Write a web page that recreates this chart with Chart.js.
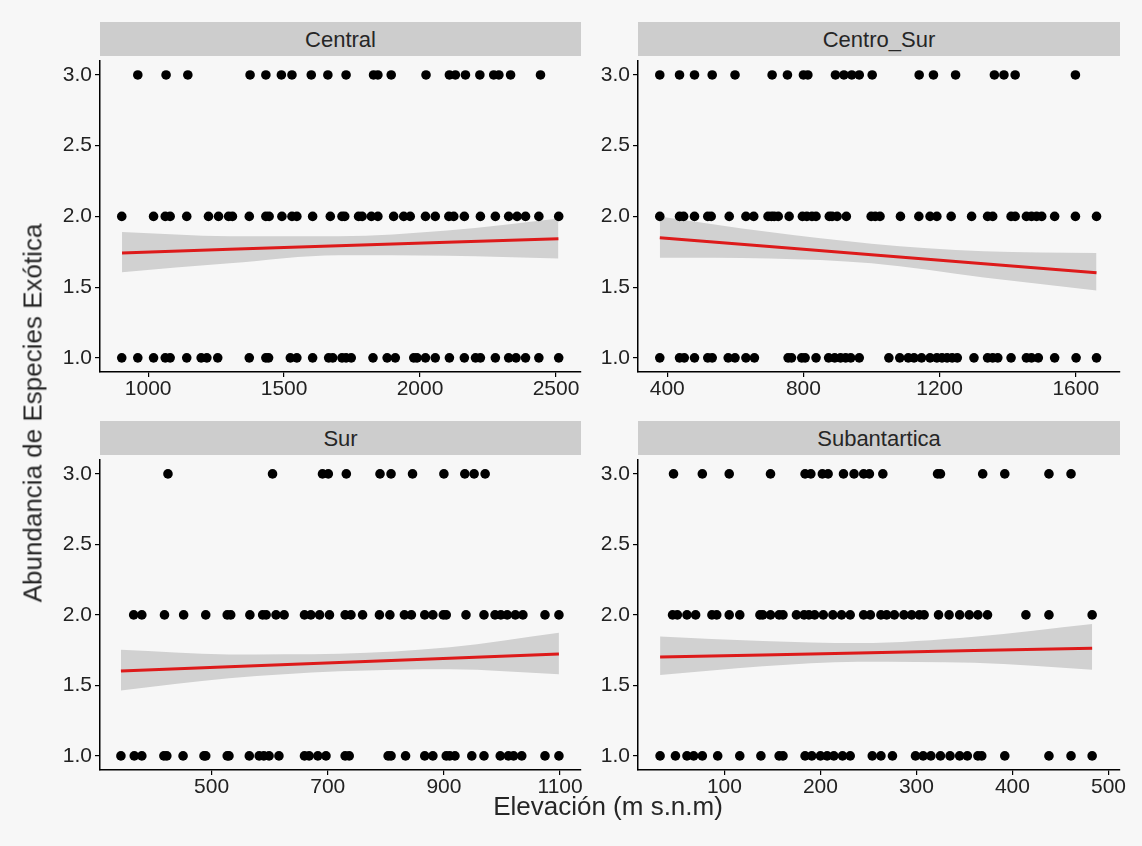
<!DOCTYPE html>
<html>
<head>
<meta charset="utf-8">
<script src="https://cdn.jsdelivr.net/npm/chart.js@4.4.0/dist/chart.umd.min.js"></script>
<style>
  body { margin: 0; background: #f7f7f7; }
  #wrap { position: relative; width: 1142px; height: 846px; overflow: hidden;
          font-family: "Liberation Sans", Arial, sans-serif; color: #262626; }
  canvas { position: absolute; }
  .strip { position: absolute; height: 34px; background: #cdcdcd; font-size: 22px;
           text-align: center; line-height: 35px; }
  .ytitle { position: absolute; left: 33px; top: 413px; font-size: 26px; white-space: nowrap;
            transform: translate(-50%, -50%) rotate(-90deg); }
  .xtitle { position: absolute; left: 608px; top: 806px; font-size: 26px; white-space: nowrap;
            transform: translate(-50%, -50%); }
</style>
</head>
<body>
<div id="wrap">
  <div class="strip" style="left:100px; top:22px; width:481px;">Central</div>
  <div class="strip" style="left:638px; top:22px; width:482px;">Centro_Sur</div>
  <div class="strip" style="left:100px; top:421px; width:481px;">Sur</div>
  <div class="strip" style="left:638px; top:421px; width:482px;">Subantartica</div>
  <canvas id="central" width="550" height="351" style="left:40px; top:56px;"></canvas>
  <canvas id="centroSur" width="564" height="351" style="left:578px; top:56px;"></canvas>
  <canvas id="sur" width="550" height="350" style="left:40px; top:455px;"></canvas>
  <canvas id="subantartica" width="564" height="350" style="left:578px; top:455px;"></canvas>
  <div class="ytitle">Abundancia de Especies Exótica</div>
  <div class="xtitle">Elevación (m s.n.m)</div>
</div>
<script>
// elevation of each plot, grouped by abundance value (1, 2, 3)
const centralAb1 = [903, 962, 1020, 1063, 1081, 1142, 1195, 1216, 1256, 1372, 1433, 1443, 1523, 1547, 1605, 1664, 1679, 1713, 1728, 1747, 1827, 1879, 1909, 1977, 1989, 2020, 2056, 2108, 2163, 2204, 2222, 2277, 2326, 2353, 2388, 2437, 2510];
const centralAb2 = [903, 1020, 1063, 1081, 1142, 1222, 1259, 1296, 1310, 1372, 1433, 1445, 1492, 1529, 1547, 1605, 1670, 1713, 1723, 1774, 1787, 1821, 1845, 1903, 1940, 1964, 2020, 2056, 2106, 2124, 2163, 2222, 2277, 2326, 2357, 2388, 2437, 2510];
const centralAb3 = [962, 1066, 1146, 1375, 1433, 1490, 1529, 1600, 1661, 1728, 1829, 1845, 1894, 2022, 2108, 2130, 2167, 2220, 2271, 2290, 2333, 2443];

const centroSurAb1 = [378, 436, 450, 480, 519, 532, 579, 599, 631, 656, 755, 765, 795, 805, 837, 874, 892, 909, 924, 939, 964, 1051, 1083, 1108, 1125, 1147, 1172, 1192, 1207, 1222, 1237, 1252, 1301, 1341, 1356, 1371, 1410, 1455, 1470, 1490, 1538, 1601, 1661];
const centroSurAb2 = [378, 436, 448, 480, 519, 529, 582, 631, 654, 696, 706, 714, 726, 758, 797, 810, 825, 837, 876, 884, 899, 926, 999, 1011, 1025, 1085, 1139, 1172, 1192, 1234, 1294, 1341, 1356, 1410, 1422, 1455, 1470, 1485, 1500, 1538, 1599, 1661];
const centroSurAb3 = [378, 436, 480, 532, 599, 708, 753, 800, 813, 894, 919, 942, 964, 1002, 1140, 1182, 1247, 1361, 1389, 1422, 1599];

const surAb1 = [344, 367, 380, 418, 423, 451, 487, 490, 527, 530, 565, 582, 590, 599, 616, 660, 668, 683, 697, 730, 737, 804, 809, 834, 867, 881, 904, 910, 919, 948, 969, 997, 1011, 1020, 1034, 1074, 1098];
const surAb2 = [366, 380, 419, 452, 490, 527, 533, 566, 588, 594, 611, 625, 660, 671, 686, 703, 730, 740, 760, 789, 807, 832, 844, 867, 881, 899, 904, 938, 969, 988, 998, 1009, 1023, 1036, 1074, 1098];
const surAb3 = [425, 605, 691, 701, 732, 790, 809, 846, 900, 936, 952, 971];

const subAb1 = [33, 49, 61, 68, 77, 93, 116, 138, 157, 161, 184, 191, 200, 207, 214, 223, 231, 254, 263, 275, 299, 307, 315, 325, 335, 345, 353, 364, 368, 392, 438, 461, 483];
const subAb2 = [46, 51, 61, 70, 87, 92, 105, 116, 137, 140, 148, 157, 161, 175, 183, 188, 194, 203, 213, 222, 231, 245, 252, 263, 269, 277, 287, 295, 303, 308, 323, 334, 345, 355, 364, 374, 414, 438, 483];
const subAb3 = [47, 77, 105, 148, 184, 190, 202, 208, 224, 235, 245, 251, 265, 322, 325, 369, 392, 438, 461];

// linear fit and its confidence band, read at a few elevations
const centralFitX = [904, 1300, 1700, 2100, 2509];
const centralFit = [1.742, 1.767, 1.792, 1.817, 1.842];
const centralUpper = [1.889, 1.86, 1.86, 1.90, 1.986];
const centralLower = [1.606, 1.668, 1.726, 1.722, 1.703];

const centroSurFitX = [378, 700, 1000, 1330, 1661];
const centroSurFit = [1.849, 1.787, 1.729, 1.665, 1.601];
const centroSurUpper = [2.0, 1.889, 1.807, 1.754, 1.742];
const centroSurLower = [1.708, 1.703, 1.668, 1.568, 1.476];

const surFitX = [344, 530, 720, 910, 1098];
const surFit = [1.602, 1.632, 1.662, 1.692, 1.722];
const surUpper = [1.752, 1.72, 1.725, 1.77, 1.873];
const surLower = [1.463, 1.55, 1.60, 1.615, 1.579];

const subFitX = [33, 140, 240, 360, 483];
const subFit = [1.701, 1.716, 1.730, 1.747, 1.764];
const subUpper = [1.847, 1.815, 1.80, 1.845, 1.935];
const subLower = [1.574, 1.636, 1.668, 1.66, 1.611];

const yTicks = [1.0, 1.5, 2.0, 2.5, 3.0];
const centralTicks = [1000, 1500, 2000, 2500];
const centroSurTicks = [400, 800, 1200, 1600];
const surTicks = [500, 700, 900, 1100];
const subTicks = [100, 200, 300, 400, 500];

const ink = '#222222';
const tickFont = { family: '"Liberation Sans", Arial, sans-serif', size: 21 };

function toPoints(xs, ys) {
  return xs.map((x, i) => ({ x: x, y: ys[i] }));
}

function makePanel(id, rows, fitX, fit, upper, lower, ticks, xMin, xMax, padRight) {
  const points = [];
  rows.forEach((xs, k) => xs.forEach(x => points.push({ x: x, y: k + 1 })));

  new Chart(document.getElementById(id), {
    type: 'line',
    data: {
      datasets: [
        {
          data: points,
          showLine: false,
          pointRadius: 4.8,
          pointBackgroundColor: '#000',
          pointBorderWidth: 0,
          order: 0
        },
        {
          data: toPoints(fitX, fit),
          borderColor: '#dd1a1a',
          borderWidth: 3,
          pointRadius: 0,
          tension: 0,
          order: 1
        },
        {
          data: toPoints(fitX, upper),
          borderWidth: 0,
          pointRadius: 0,
          cubicInterpolationMode: 'monotone',
          backgroundColor: '#d1d1d1',
          fill: '+1',
          order: 2
        },
        {
          data: toPoints(fitX, lower),
          borderWidth: 0,
          pointRadius: 0,
          cubicInterpolationMode: 'monotone',
          order: 3
        }
      ]
    },
    options: {
      responsive: false,
      animation: false,
      devicePixelRatio: 1,
      layout: { padding: { top: 0, right: padRight, bottom: 0, left: 0 } },
      plugins: { legend: { display: false }, tooltip: { enabled: false } },
      scales: {
        x: {
          type: 'linear',
          min: xMin,
          max: xMax,
          afterBuildTicks: scale => { scale.ticks = ticks.map(v => ({ value: v })); },
          afterFit: scale => { scale.height = 35; scale.paddingLeft = 0; scale.paddingRight = 0; },
          ticks: { color: ink, font: tickFont, padding: 0, maxRotation: 0,
                   callback: v => String(v) },
          grid: { drawOnChartArea: false, tickLength: 5, color: '#000', lineWidth: 1.2 },
          border: { display: true, color: '#000', width: 1.5 }
        },
        y: {
          type: 'linear',
          min: 0.9,
          max: 3.1,
          afterBuildTicks: scale => { scale.ticks = yTicks.map(v => ({ value: v })); },
          afterFit: scale => { scale.width = 60; scale.paddingTop = 0; scale.paddingBottom = 0; },
          ticks: { color: ink, font: tickFont, padding: 3,
                   callback: v => Number(v).toFixed(1) },
          grid: { drawOnChartArea: false, tickLength: 5, color: '#000', lineWidth: 1.2 },
          border: { display: true, color: '#000', width: 1.5 }
        }
      }
    }
  });
}

makePanel('central', [centralAb1, centralAb2, centralAb3],
  centralFitX, centralFit, centralUpper, centralLower, centralTicks, 823, 2592, 9);
makePanel('centroSur', [centroSurAb1, centroSurAb2, centroSurAb3],
  centroSurFitX, centroSurFit, centroSurUpper, centroSurLower, centroSurTicks, 314, 1730, 22);
makePanel('sur', [surAb1, surAb2, surAb3],
  surFitX, surFit, surUpper, surLower, surTicks, 308, 1136, 9);
makePanel('subantartica', [subAb1, subAb2, subAb3],
  subFitX, subFit, subUpper, subLower, subTicks, 10, 512, 22);
</script>
</body>
</html>
